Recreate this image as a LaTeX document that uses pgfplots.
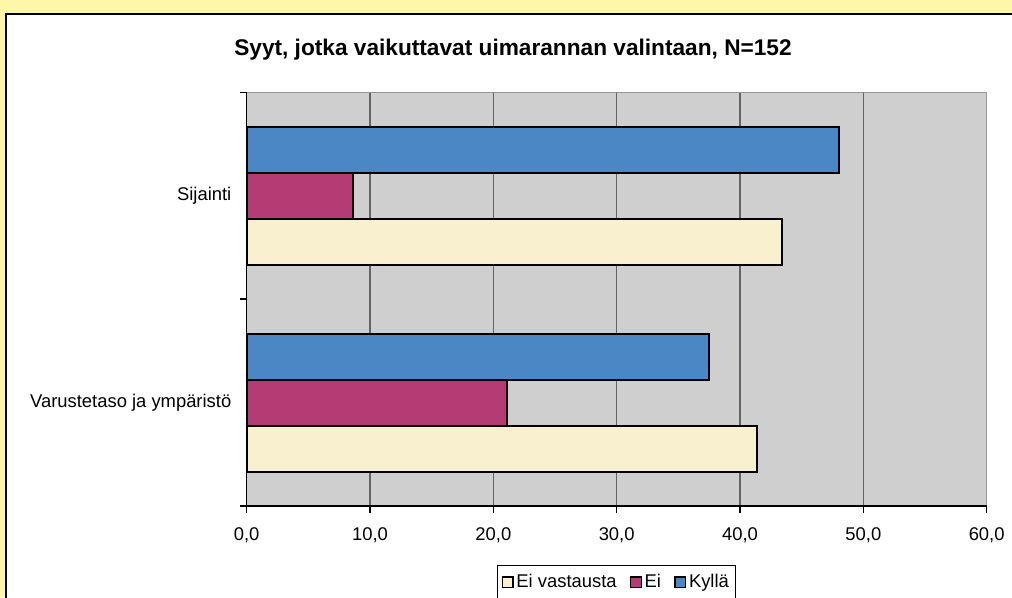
\documentclass[border=0pt]{standalone}
\usepackage{pgfplots}
\pgfplotsset{compat=1.18}
\usepackage{fontspec}
\setmainfont{Liberation Sans}
\definecolor{bgyellow}{RGB}{255,247,168}
\definecolor{plotgray}{RGB}{207,207,207}
\definecolor{gridgray}{RGB}{100,100,100}
\definecolor{bordergray}{RGB}{150,150,150}
\definecolor{kylla}{RGB}{74,135,196}
\definecolor{ei}{RGB}{181,59,116}
\definecolor{eiv}{RGB}{248,240,206}
\newcommand{\lblfont}{\fontsize{13.8}{16}\selectfont}
\begin{document}
\begin{tikzpicture}
\useasboundingbox (0pt,0pt) rectangle (759pt,447.75pt);
\fill[bgyellow] (0pt,0pt) rectangle (759pt,447.75pt);
\draw[fill=white, line width=1.5pt] (4.5pt,437.5pt) -- (4.5pt,-20pt) -- (780pt,-20pt) -- (780pt,437.5pt) -- cycle;
\node[font=\fontsize{17}{20}\selectfont\bfseries] at (384.75pt,410.25pt) {Syyt, jotka vaikuttavat uimarannan valintaan, N=152};
\begin{axis}[
  at={(185pt,68.25pt)}, anchor=south west,
  scale only axis, width=555pt, height=310.3pt,
  clip=false,
  xmin=0, xmax=60, ymin=-0.5, ymax=1.5,
  xtick={0,10,...,60},
  xticklabels={{0,0},{10,0},{20,0},{30,0},{40,0},{50,0},{60,0}},
  xtick pos=lower, ytick pos=left,
  ytick={0,1},
  yticklabels={Varustetaso ja ympäristö,Sijainti},
  minor ytick={-0.5,0.5,1.5},
  major y tick style={draw=none},
  minor y tick style={draw=black, line width=1pt},
  xtick style={draw=black, line width=1pt},
  tick align=outside,
  major tick length=5pt, minor tick length=5pt,
  ticklabel style={font=\lblfont},
  yticklabel style={xshift=-3pt},
  xticklabel style={yshift=-8pt},
  xmajorgrids, ymajorgrids=false, yminorgrids=false,
  grid style={gridgray, line width=1pt},
  axis background/.style={fill=plotgray},
  axis line style={bordergray, line width=1pt},
  xbar=0pt, bar width=34.5pt,
  legend columns=3,
  legend style={at={(0.5,-0.142)}, anchor=north, draw=black, line width=0.75pt,
    font=\lblfont, inner xsep=3pt, inner ysep=5pt,
    /tikz/every even column/.append style={column sep=8pt}},
  legend image code/.code={\draw[#1, draw=black, line width=1pt] (0pt,-4pt) rectangle (8pt,4pt);},
]
\addplot[fill=eiv, draw=black, line width=1.4pt] coordinates {(41.4,0) (43.4,1)};
\addlegendentry{Ei vastausta}
\addplot[fill=ei, draw=black, line width=1.4pt] coordinates {(21.1,0) (8.6,1)};
\addlegendentry{Ei}
\addplot[fill=kylla, draw=black, line width=1.4pt] coordinates {(37.5,0) (48.0,1)};
\addlegendentry{Kyllä}
\draw[black, line width=1pt] (rel axis cs:0,1) -- (rel axis cs:0,0) -- (rel axis cs:1,0);
\pgfplotsinvokeforeach{0,10,20,30,40,50,60}{
  \draw[black, line width=1pt] (axis cs:#1,-0.5) -- ([yshift=-5pt]axis cs:#1,-0.5);
}
\end{axis}
\end{tikzpicture}
\end{document}
